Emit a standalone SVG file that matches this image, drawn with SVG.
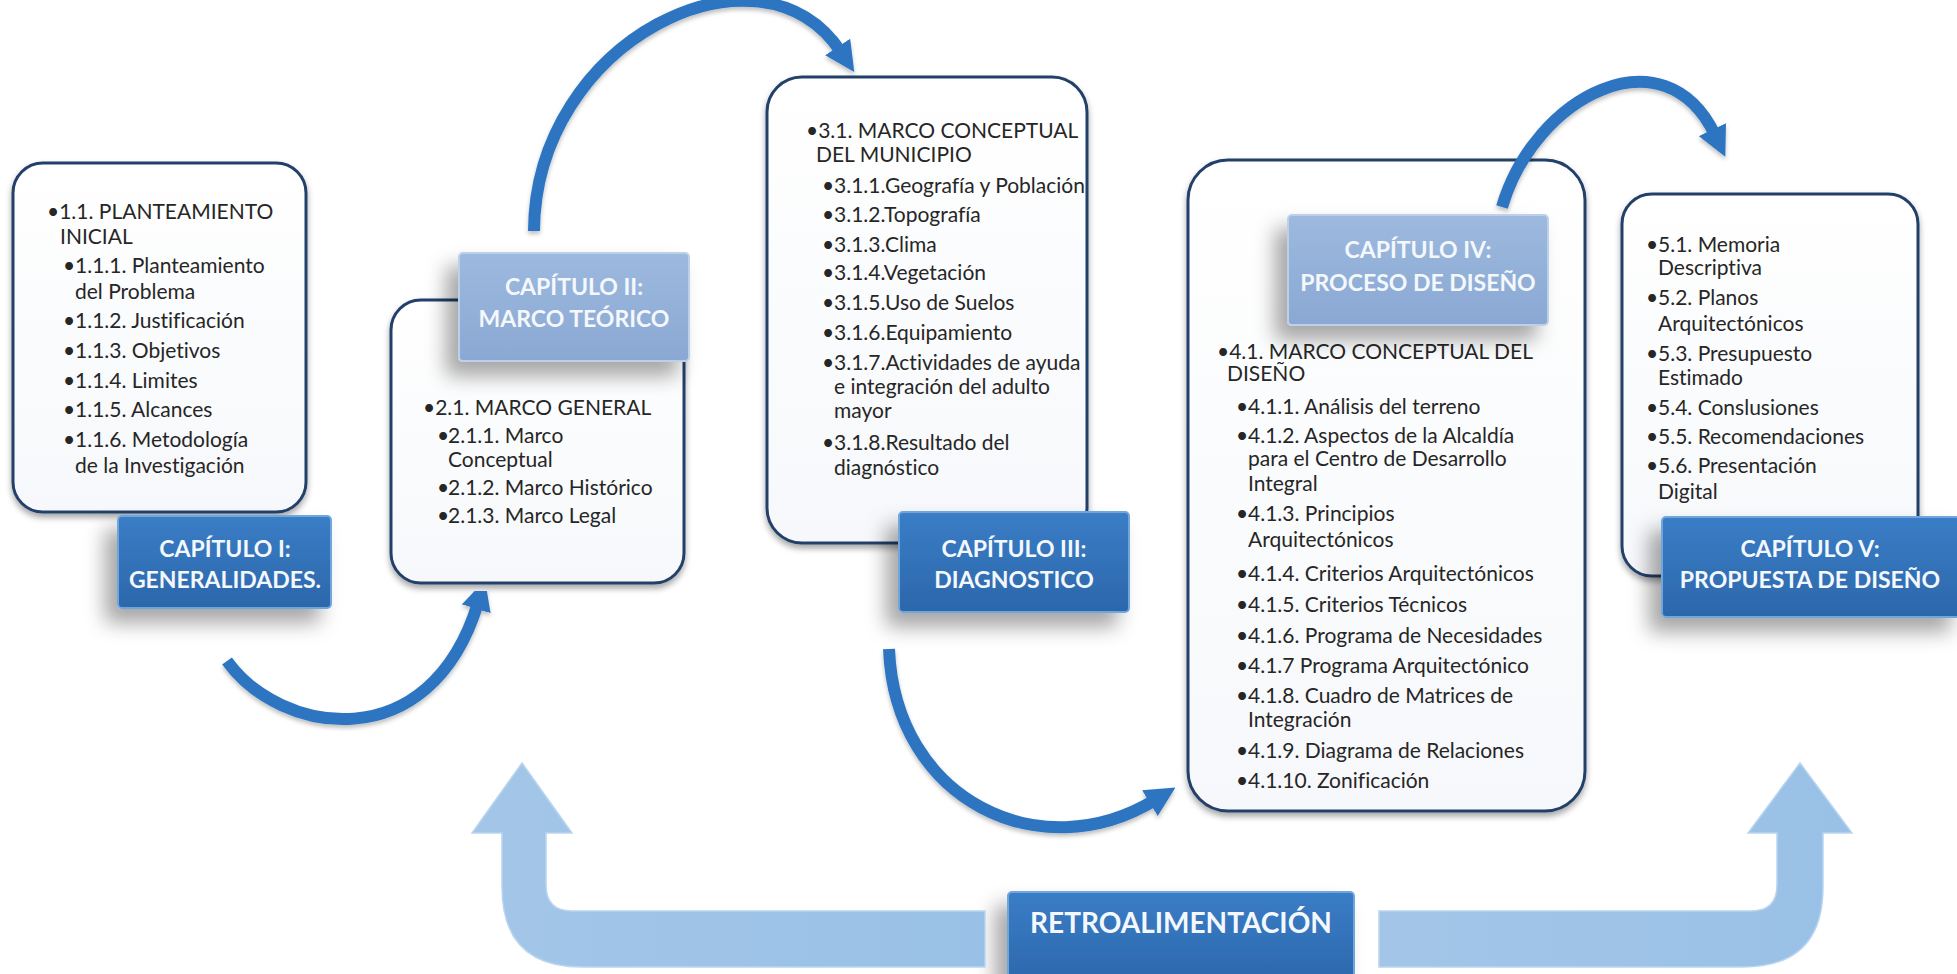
<svg xmlns="http://www.w3.org/2000/svg" width="1957" height="974" viewBox="0 0 1957 974">
<style>
.box{fill:url(#boxG);stroke:#24406A;stroke-width:3;filter:url(#sh)}
.lblD{fill:url(#darkG);stroke:#6FA6DE;stroke-width:2;filter:url(#sh2)}
.lblL{fill:url(#lightG);stroke:#BCD0EA;stroke-width:2;filter:url(#sh2)}
.t{font-family:Lato,"Liberation Sans",sans-serif;font-size:21px;fill:#262626;font-variant-ligatures:none}
.lt{font-family:Lato,"Liberation Sans",sans-serif;font-weight:bold;font-size:23px;fill:#F4F8FC;text-anchor:middle;font-variant-ligatures:none}
.arc{fill:none;stroke:#2E75C1;stroke-width:12;marker-end:url(#ah);filter:url(#sh3)}
.fb{fill:url(#fbG);stroke:#B9D5EF;stroke-width:1.5}
</style>
<defs>
<linearGradient id="boxG" x1="0" y1="0" x2="0" y2="1"><stop offset="0" stop-color="#FFFFFF"/><stop offset="1" stop-color="#F6F8FB"/></linearGradient>
<linearGradient id="darkG" x1="0" y1="0" x2="0" y2="1"><stop offset="0" stop-color="#3A7DC6"/><stop offset="1" stop-color="#2C67AB"/></linearGradient>
<linearGradient id="lightG" x1="0" y1="0" x2="0" y2="1"><stop offset="0" stop-color="#9DB9DE"/><stop offset="1" stop-color="#8AA8D3"/></linearGradient>
<linearGradient id="fbG" x1="0" y1="0" x2="1" y2="0"><stop offset="0" stop-color="#A3C6E8"/><stop offset="1" stop-color="#99C0E6"/></linearGradient>
<filter id="sh" x="-10%" y="-10%" width="120%" height="125%"><feDropShadow dx="0" dy="4" stdDeviation="3" flood-color="#000" flood-opacity="0.35"/></filter>
<filter id="sh2" x="-30%" y="-30%" width="160%" height="180%"><feDropShadow dx="-12" dy="14" stdDeviation="10" flood-color="#000" flood-opacity="0.35"/></filter>
<filter id="sh3" x="-10%" y="-10%" width="120%" height="120%"><feDropShadow dx="0" dy="3" stdDeviation="2" flood-color="#000" flood-opacity="0.25"/></filter>
<marker id="ah" markerUnits="userSpaceOnUse" markerWidth="30" markerHeight="30" viewBox="0 0 10 10" refX="2" refY="5" orient="auto"><path d="M0,0 L10,5 L0,10 Z" fill="#2E75C1"/></marker>
</defs>
<rect width="1957" height="974" fill="#FFFFFF"/>

<g id="node1">
<rect class="box" x="13" y="163" width="293" height="349" rx="30"/>
<text class="t" x="47" y="219">•1.1. PLANTEAMIENTO</text>
<text class="t" x="60" y="244">INICIAL</text>
<text class="t" x="63" y="273">•<tspan x="75">1.1.1. Planteamiento</tspan></text>
<text class="t" x="75" y="299">del Problema</text>
<text class="t" x="63" y="328">•<tspan x="75">1.1.2. Justificación</tspan></text>
<text class="t" x="63" y="358">•<tspan x="75">1.1.3. Objetivos</tspan></text>
<text class="t" x="63" y="388">•<tspan x="75">1.1.4. Limites</tspan></text>
<text class="t" x="63" y="417">•<tspan x="75">1.1.5. Alcances</tspan></text>
<text class="t" x="63" y="447">•<tspan x="75">1.1.6. Metodología</tspan></text>
<text class="t" x="75" y="473">de la Investigación</text>
</g>
<g id="label1">
<rect class="lblD" x="118" y="516" width="213" height="92" rx="4"/>
<text class="lt" x="225" y="557">CAPÍTULO I:</text>
<text class="lt" x="225" y="588">GENERALIDADES.</text>
</g>

<g id="node2">
<rect class="box" x="391" y="300" width="293" height="283" rx="30"/>
<text class="t" x="423" y="415">•2.1.  MARCO GENERAL</text>
<text class="t" x="437" y="443">•<tspan x="448">2.1.1. Marco</tspan></text>
<text class="t" x="448" y="467">Conceptual</text>
<text class="t" x="437" y="495">•<tspan x="448">2.1.2. Marco Histórico</tspan></text>
<text class="t" x="437" y="523">•<tspan x="448">2.1.3. Marco Legal</tspan></text>
</g>
<g id="label2">
<rect class="lblL" x="459" y="253" width="230" height="108" rx="4"/>
<text class="lt" x="574" y="295">CAPÍTULO II:</text>
<text class="lt" x="574" y="327">MARCO TEÓRICO</text>
</g>

<g id="node3">
<rect class="box" x="767" y="77" width="320" height="466" rx="35"/>
<text class="t" x="806" y="138">•3.1. MARCO CONCEPTUAL</text>
<text class="t" x="816" y="162">DEL MUNICIPIO</text>
<text class="t" x="822" y="193">•<tspan x="834">3.1.1.Geografía y Población</tspan></text>
<text class="t" x="822" y="222">•<tspan x="834">3.1.2.Topografía</tspan></text>
<text class="t" x="822" y="252">•<tspan x="834">3.1.3.Clima</tspan></text>
<text class="t" x="822" y="280">•<tspan x="834">3.1.4.Vegetación</tspan></text>
<text class="t" x="822" y="310">•<tspan x="834">3.1.5.Uso  de Suelos</tspan></text>
<text class="t" x="822" y="340">•<tspan x="834">3.1.6.Equipamiento</tspan></text>
<text class="t" x="822" y="370">•<tspan x="834">3.1.7.Actividades de ayuda</tspan></text>
<text class="t" x="834" y="394">e integración del adulto</text>
<text class="t" x="834" y="418">mayor</text>
<text class="t" x="822" y="450">•<tspan x="834">3.1.8.Resultado del</tspan></text>
<text class="t" x="834" y="475">diagnóstico</text>
</g>
<g id="label3">
<rect class="lblD" x="899" y="512" width="230" height="100" rx="4"/>
<text class="lt" x="1014" y="557">CAPÍTULO III:</text>
<text class="lt" x="1014" y="588">DIAGNOSTICO</text>
</g>

<g id="node4">
<rect class="box" x="1188" y="160" width="397" height="651" rx="40"/>
<text class="t" x="1217" y="359">•4.1. MARCO CONCEPTUAL DEL</text>
<text class="t" x="1227" y="381">DISEÑO</text>
<text class="t" x="1236" y="414">•<tspan x="1248">4.1.1. Análisis del terreno</tspan></text>
<text class="t" x="1236" y="443">•<tspan x="1248">4.1.2. Aspectos de la Alcaldía</tspan></text>
<text class="t" x="1248" y="466">para el Centro de Desarrollo</text>
<text class="t" x="1248" y="491">Integral</text>
<text class="t" x="1236" y="521">•<tspan x="1248">4.1.3. Principios</tspan></text>
<text class="t" x="1248" y="547">Arquitectónicos</text>
<text class="t" x="1236" y="581">•<tspan x="1248">4.1.4. Criterios Arquitectónicos</tspan></text>
<text class="t" x="1236" y="612">•<tspan x="1248">4.1.5. Criterios Técnicos</tspan></text>
<text class="t" x="1236" y="643">•<tspan x="1248">4.1.6. Programa de Necesidades</tspan></text>
<text class="t" x="1236" y="673">•<tspan x="1248">4.1.7 Programa Arquitectónico</tspan></text>
<text class="t" x="1236" y="703">•<tspan x="1248">4.1.8. Cuadro de Matrices de</tspan></text>
<text class="t" x="1248" y="727">Integración</text>
<text class="t" x="1236" y="758">•<tspan x="1248">4.1.9. Diagrama de  Relaciones</tspan></text>
<text class="t" x="1236" y="788">•<tspan x="1248">4.1.10. Zonificación</tspan></text>
</g>
<g id="label4">
<rect class="lblL" x="1288" y="215" width="260" height="110" rx="4"/>
<text class="lt" x="1418" y="258">CAPÍTULO IV:</text>
<text class="lt" x="1418" y="291">PROCESO DE DISEÑO</text>
</g>

<g id="node5">
<rect class="box" x="1622" y="194" width="296" height="382" rx="30"/>
<text class="t" x="1646" y="252">•<tspan x="1658">5.1. Memoria</tspan></text>
<text class="t" x="1658" y="275">Descriptiva</text>
<text class="t" x="1646" y="305">•<tspan x="1658">5.2. Planos</tspan></text>
<text class="t" x="1658" y="331">Arquitectónicos</text>
<text class="t" x="1646" y="361">•<tspan x="1658">5.3. Presupuesto</tspan></text>
<text class="t" x="1658" y="385">Estimado</text>
<text class="t" x="1646" y="415">•<tspan x="1658">5.4. Conslusiones</tspan></text>
<text class="t" x="1646" y="444">•<tspan x="1658">5.5. Recomendaciones</tspan></text>
<text class="t" x="1646" y="473">•<tspan x="1658">5.6. Presentación</tspan></text>
<text class="t" x="1658" y="499">Digital</text>
</g>
<g id="label5">
<rect class="lblD" x="1662" y="517" width="300" height="100" rx="4"/>
<text class="lt" x="1810" y="557">CAPÍTULO V:</text>
<text class="lt" x="1810" y="588">PROPUESTA DE DISEÑO</text>
</g>

<g id="retro">
<rect class="lblD" x="1008" y="892" width="346" height="95" rx="4"/>
<text class="lt" x="1181" y="933" style="font-size:28px">RETROALIMENTACIÓN</text>
</g>

<g id="connectors">
<path class="arc" d="M 227 661 C 280 735, 430 760, 478 603"/>
<path class="arc" d="M 534 231 C 535 40, 760 -70, 841 52"/>
<path class="arc" d="M 889 649 C 895 800, 1040 870, 1155 800"/>
<path class="arc" d="M 1502 207 C 1535 95, 1665 30, 1715 135"/>
<path class="fb" d="M 522 763 L 572 833 L 546 833 L 546 885 Q 546 911 572 911 L 985 911 L 985 967 L 582 967 Q 502 967 502 887 L 502 833 L 472 833 Z"/>
<path class="fb" d="M 1800 763 L 1852 833 L 1823 833 L 1823 887 Q 1823 967 1743 967 L 1379 967 L 1379 911 L 1751 911 Q 1777 911 1777 885 L 1777 833 L 1748 833 Z"/>
</g>
</svg>
